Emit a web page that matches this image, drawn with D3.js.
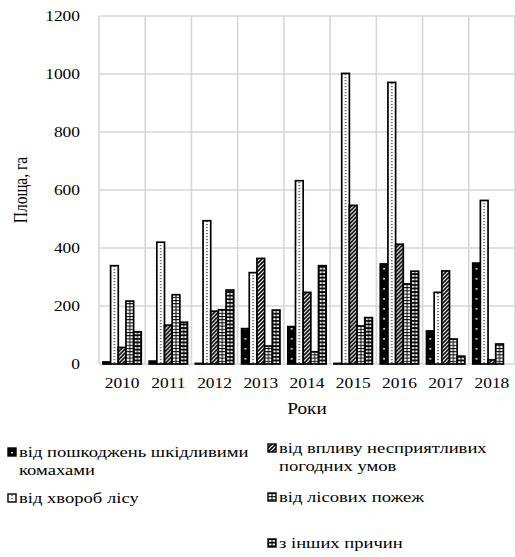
<!DOCTYPE html>
<html>
<head>
<meta charset="utf-8">
<script src="https://cdn.jsdelivr.net/npm/d3@7"></script>
<style>
  body { margin: 0; background: #fff; }
  svg { display: block; }
  text { font-family: "Liberation Serif", "DejaVu Serif", "Times New Roman", serif; fill: #000; }
</style>
</head>
<body>
<svg id="chart" width="515" height="557"></svg>
<script>
// Areas of forest damage by cause, ha
const years = ["2010", "2011", "2012", "2013", "2014", "2015", "2016", "2017", "2018"];
const seriesKeys = ["insects", "disease", "weather", "fire", "other"];
const seriesLabels = [
  ["від пошкоджень шкідливими", "комахами"],
  ["від хвороб лісу"],
  ["від впливу несприятливих", "погодних умов"],
  ["від лісових пожеж"],
  ["з інших причин"]
];
const insects = [7, 10, 2, 122, 129, 2, 345, 114, 348];
const disease = [339, 420, 494, 315, 632, 1002, 971, 247, 564];
const weather = [57, 134, 182, 364, 247, 547, 413, 321, 14];
const fire    = [217, 239, 187, 62, 42, 131, 276, 86, 69];
const other   = [111, 144, 255, 186, 339, 160, 320, 27, 0];
const yTicks = [0, 200, 400, 600, 800, 1000, 1200];

const valuesBySeries = { insects, disease, weather, fire, other };

const W = 515, H = 557;
const SX = 1.2; // horizontal stretch of the lettering
const margin = { left: 99, right: 0, top: 16, bottom: 193 };

const svg = d3.select("#chart");
svg.append("rect").attr("width", W).attr("height", H).attr("fill", "#fff");
const defs = svg.append("defs");

const x = d3.scaleBand().domain(years)
  .range([margin.left, W - margin.right])
  .paddingInner(0.17).paddingOuter(0.085);
const xs = d3.scaleBand().domain(seriesKeys).range([0, x.bandwidth()]);
const y = d3.scaleLinear().domain([0, 1200]).range([H - margin.bottom, margin.top]);

const step = x.step();
const plotL = margin.left, plotR = W - margin.right;

// gridlines
const grid = svg.append("g").attr("stroke", "#d6d6d6").attr("stroke-width", 1.6);
grid.selectAll("line.h").data(yTicks).join("line").attr("class", "h")
  .attr("x1", plotL).attr("x2", plotR)
  .attr("y1", d => y(d)).attr("y2", d => y(d));
grid.selectAll("line.v").data(d3.range(years.length + 1)).join("line").attr("class", "v")
  .attr("x1", i => plotL + i * step).attr("x2", i => plotL + i * step)
  .attr("y1", y(1200)).attr("y2", y(0));

// pattern builders, one pattern per bar so that each fill is aligned to its bar
function buildPattern(id, key, x0, y0, bw) {
  const p = defs.append("pattern").attr("id", id).attr("patternUnits", "userSpaceOnUse")
    .attr("x", x0).attr("y", y0);
  if (key === "insects") {
    p.attr("width", bw).attr("height", 10);
    p.append("rect").attr("width", bw).attr("height", 10).attr("fill", "#000");
    p.append("rect").attr("x", bw / 2 - 0.8).attr("y", 4).attr("width", 1.6).attr("height", 1.6).attr("fill", "#fff");
  } else if (key === "disease") {
    p.attr("width", bw).attr("height", 3);
    p.append("rect").attr("width", bw).attr("height", 3).attr("fill", "#fff");
    p.append("rect").attr("x", bw / 2 - 0.6).attr("y", 1).attr("width", 1.2).attr("height", 1.2).attr("fill", "#222");
  } else if (key === "weather") {
    p.attr("width", 4).attr("height", 4);
    p.append("rect").attr("width", 4).attr("height", 4).attr("fill", "#fff");
    p.append("path").attr("d", "M-1,5 L5,-1 M-1,1 L1,-1 M3,5 L5,3")
      .attr("stroke", "#000").attr("stroke-width", 1.6);
  } else if (key === "fire") {
    p.attr("width", bw).attr("height", 3.2);
    p.append("rect").attr("width", bw).attr("height", 3.2).attr("fill", "#fff");
    p.append("rect").attr("x", 0).attr("y", 0).attr("width", bw).attr("height", 1).attr("fill", "#000");
    p.append("rect").attr("x", bw / 2 - 0.5).attr("y", 0).attr("width", 1).attr("height", 3.2).attr("fill", "#000");
  } else {
    p.attr("width", bw).attr("height", 3.6);
    p.append("rect").attr("width", bw).attr("height", 3.6).attr("fill", "#000");
    const cw = (bw - 3) / 2;
    p.append("rect").attr("x", 1).attr("y", 1).attr("width", cw).attr("height", 1.8).attr("fill", "#fff");
    p.append("rect").attr("x", 2 + cw).attr("y", 1).attr("width", cw).attr("height", 1.8).attr("fill", "#fff");
  }
}

// bars
const bars = [];
seriesKeys.forEach(key => {
  valuesBySeries[key].forEach((v, i) => bars.push({ key, year: years[i], value: v }));
});
bars.forEach((d, n) => {
  d.id = "bar-pat-" + n;
  buildPattern(d.id, d.key, x(d.year) + xs(d.key), y(0), xs.bandwidth());
});
svg.append("g").selectAll("rect").data(bars.filter(d => d.value > 0)).join("rect")
  .attr("x", d => x(d.year) + xs(d.key))
  .attr("width", xs.bandwidth())
  .attr("y", d => y(d.value))
  .attr("height", d => y(0) - y(d.value))
  .attr("fill", d => `url(#${d.id})`)
  .attr("stroke", "#000").attr("stroke-width", 1.7);

// axes labels
const fontTick = 14.5;
svg.append("g").selectAll("text").data(yTicks).join("text")
  .attr("transform", d => `translate(80,${y(d) + 5}) scale(${SX},1)`)
  .attr("text-anchor", "end").attr("font-size", fontTick)
  .text(d => d);

svg.append("g").selectAll("text").data(years).join("text")
  .attr("transform", d => `translate(${x(d) + x.bandwidth() / 2},388) scale(${SX},1)`)
  .attr("text-anchor", "middle").attr("font-size", fontTick)
  .text(d => d);

svg.append("text")
  .attr("transform", `translate(${(plotL + plotR) / 2},414) scale(${SX},1)`)
  .attr("text-anchor", "middle").attr("font-size", 16).text("Роки");

svg.append("text")
  .attr("transform", `translate(27,${(y(0) + y(1200)) / 2}) scale(${SX},1) rotate(-90)`)
  .attr("text-anchor", "middle").attr("font-size", 15.5).text("Площа, га");

// legend
const legendPos = [
  { x: 8, y: 457 },
  { x: 8, y: 503 },
  { x: 268, y: 453 },
  { x: 268, y: 502 },
  { x: 268, y: 548 }
];
const leg = svg.append("g");
seriesKeys.forEach((key, i) => {
  const pos = legendPos[i];
  const box = 8;
  const bx = pos.x, by = pos.y - 9;
  buildPattern("leg-pat-" + i, key, bx, by, box);
  leg.append("rect").attr("x", bx).attr("y", by).attr("width", box).attr("height", box)
    .attr("fill", `url(#leg-pat-${i})`).attr("stroke", "#000").attr("stroke-width", 1.4);
  seriesLabels[i].forEach((line, j) => {
    leg.append("text")
      .attr("transform", `translate(${bx + 11},${pos.y + j * 18}) scale(${SX},1)`)
      .attr("font-size", 15.5).text(line);
  });
});
</script>
</body>
</html>
